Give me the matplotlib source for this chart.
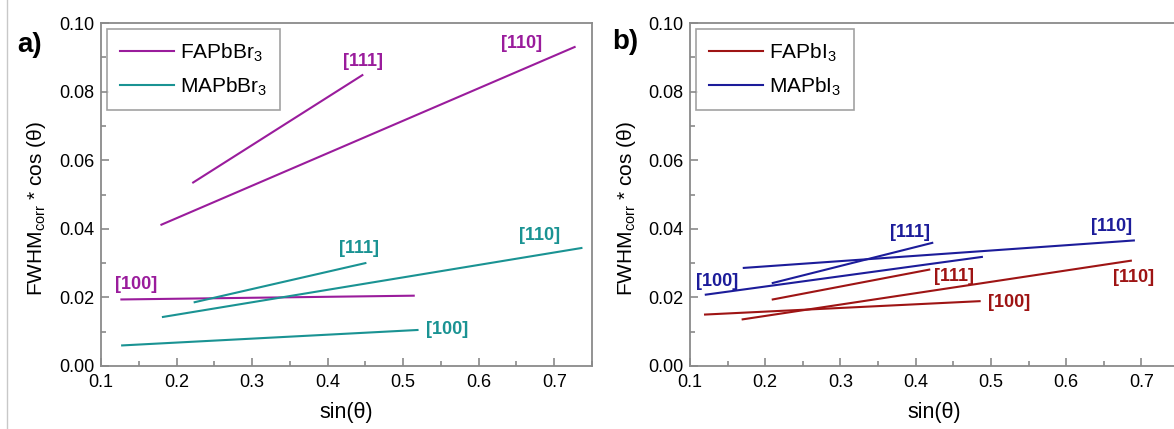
import matplotlib
matplotlib.use("Agg")
import matplotlib.pyplot as plt
from matplotlib.lines import Line2D
from matplotlib.ticker import MultipleLocator

plt.rcParams['font.family'] = ['Liberation Sans', 'DejaVu Sans']
plt.rcParams['mathtext.default'] = 'regular'

####data: each fit line is stored as start/end points######
directions = ['[111]', '[110]', '[100]']

# panel a
fabr_x0 = [0.222, 0.180, 0.127]
fabr_y0 = [0.0535, 0.0412, 0.0194]
fabr_x1 = [0.446, 0.727, 0.514]
fabr_y1 = [0.0848, 0.0930, 0.0205]
mabr_x0 = [0.224, 0.182, 0.128]
mabr_y0 = [0.0186, 0.0143, 0.0060]
mabr_x1 = [0.450, 0.736, 0.519]
mabr_y1 = [0.0300, 0.0344, 0.0105]

# panel b
fai_x0 = [0.210, 0.170, 0.120]
fai_y0 = [0.0194, 0.0136, 0.0150]
fai_x1 = [0.418, 0.686, 0.485]
fai_y1 = [0.0281, 0.0307, 0.0189]
mai_x0 = [0.210, 0.1715, 0.121]
mai_y0 = [0.0242, 0.0286, 0.0208]
mai_x1 = [0.422, 0.690, 0.488]
mai_y1 = [0.0359, 0.0366, 0.0318]

# label positions (data coords)
fabr_lx = [0.447, 0.657, 0.146]
fabr_ly = [0.0887, 0.0940, 0.0239]
mabr_lx = [0.442, 0.681, 0.558]
mabr_ly = [0.0344, 0.0380, 0.0107]
fai_lx = [0.451, 0.689, 0.524]
fai_ly = [0.0262, 0.0257, 0.0186]
mai_lx = [0.393, 0.660, 0.1355]
mai_ly = [0.0390, 0.0407, 0.0247]

purple = '#9a1c9c'
teal = '#1a9393'
darkred = '#9e1414'
navy = '#1c1c9a'
spine_gray = '#8a8a8a'

W, H = 1174, 429
fig = plt.figure(figsize=(W / 100, H / 100), dpi=100)

def style_axes(ax):
    ax.set_xlim(0.1, 0.75)
    ax.set_ylim(0.0, 0.1)
    ax.xaxis.set_minor_locator(MultipleLocator(0.05))
    ax.yaxis.set_minor_locator(MultipleLocator(0.01))
    ax.set_xticks([0.1, 0.2, 0.3, 0.4, 0.5, 0.6, 0.7])
    ax.set_xticklabels(['0.1', '0.2', '0.3', '0.4', '0.5', '0.6', '0.7'])
    ax.set_yticks([0.0, 0.02, 0.04, 0.06, 0.08, 0.10])
    ax.set_yticklabels(['0.00', '0.02', '0.04', '0.06', '0.08', '0.10'])
    ax.tick_params(which='both', direction='in', color=spine_gray, width=1.2,
                   labelsize=13, top=False, right=False)
    ax.tick_params(which='major', length=6)
    ax.tick_params(which='minor', length=3.5)
    ax.tick_params(axis='x', pad=6)
    ax.tick_params(axis='y', pad=5)
    for s in ax.spines.values():
        s.set_color(spine_gray)
        s.set_linewidth(1.3)
    ax.set_xlabel('sin(θ)', fontsize=15.5, labelpad=8)
    ax.set_ylabel('FWHM$_{corr}$ * cos (θ)', fontsize=15)
    ax.yaxis.set_label_coords(-0.107, 0.46)

def draw_set(ax, x0, y0, x1, y1, lx, ly, color, name):
    for i in range(len(directions)):
        ax.plot([x0[i], x1[i]], [y0[i], y1[i]], color=color, lw=1.5,
                label=name if i == 0 else None)
        ax.text(lx[i], ly[i], directions[i], color=color, fontsize=13,
                fontweight='bold', ha='center', va='center')

bottom = (H - 366) / H
height = 343 / H

ax1 = fig.add_axes([101 / W, bottom, 491 / W, height])
style_axes(ax1)
draw_set(ax1, fabr_x0, fabr_y0, fabr_x1, fabr_y1, fabr_lx, fabr_ly, purple, 'FAPbBr$_3$')
draw_set(ax1, mabr_x0, mabr_y0, mabr_x1, mabr_y1, mabr_lx, mabr_ly, teal, 'MAPbBr$_3$')

ax2 = fig.add_axes([690 / W, bottom, 489 / W, height])
style_axes(ax2)
draw_set(ax2, fai_x0, fai_y0, fai_x1, fai_y1, fai_lx, fai_ly, darkred, 'FAPbI$_3$')
draw_set(ax2, mai_x0, mai_y0, mai_x1, mai_y1, mai_lx, mai_ly, navy, 'MAPbI$_3$')

for ax in (ax1, ax2):
    leg = ax.legend(loc='upper left', fontsize=15, frameon=True, fancybox=False,
                    edgecolor=spine_gray, borderaxespad=0.3, handlelength=2.6,
                    handletextpad=0.3, borderpad=0.6, labelspacing=0.55)
    leg.get_frame().set_linewidth(1.2)

fig.text(30 / W, 1 - 45 / H, 'a)', fontsize=20, fontweight='bold',
         ha='center', va='center')
fig.text(625 / W, 1 - 42 / H, 'b)', fontsize=20, fontweight='bold',
         ha='center', va='center')

# thin border line at the left edge of the original image
fig.add_artist(Line2D([7 / W, 7 / W], [0, 1], color='#c8c8c8', lw=1.0))

fig.savefig('out.png', dpi=100)
